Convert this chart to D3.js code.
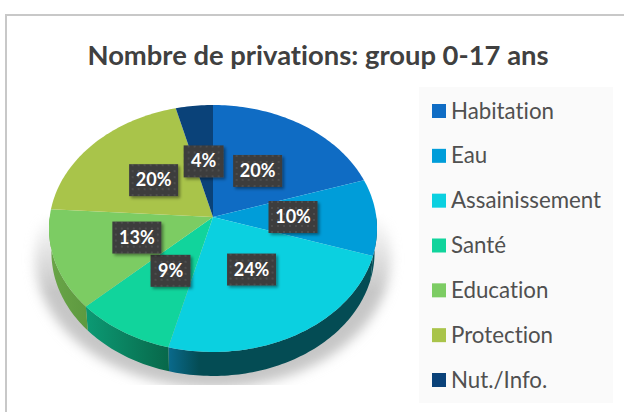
<!DOCTYPE html>
<html>
<head>
<meta charset="utf-8">
<script src="https://cdnjs.cloudflare.com/ajax/libs/d3/7.8.5/d3.min.js"></script>
<style>
html, body { margin: 0; padding: 0; background: #fff; }
svg { display: block; }
text { font-family: Lato, "Open Sans", sans-serif; font-variant-ligatures: none; }
</style>
</head>
<body>
<svg id="chart" width="624" height="412"></svg>
<script>
var categories = ["Habitation", "Eau", "Assainissement", "Santé", "Education", "Protection", "Nut./Info."];
var shares = [20, 10, 24, 9, 13, 20, 4];
var titleText = "Nombre de privations: group 0-17 ans";

var topColors = ["#0f6cc4", "#009dd9", "#0bd0e0", "#11d49c", "#7ccc63", "#a9c44a", "#0a4279"];
var wallLeft = ["#0f6cc4", "#05525c", "#0a6a8c", "#0c9a74", "#6aa548", "#a9c44a", "#0a4279"];
var wallRight = ["#0f6cc4", "#05525c", "#044c54", "#08684a", "#5e9a40", "#a9c44a", "#0a4279"];
var wallKnee = [1, 1, 0.15, 1, 1, 1, 1];
var labelPull = [0.5, 0.49, 0.45, 0.47, 0.48, 0.5, 0.5];

// pie geometry
var apex = { x: 213, y: 217 };
var radiusX = 163.3, radiusY = 122.4, tilt = -0.093, depth = 24, baseInset = 0.985;

var svg = d3.select("#chart");
var defs = svg.append("defs");

// the disc is not centred on the apex, the near side is drawn larger
function rim(a) {
    var X = Math.sin(a), Y = -Math.cos(a), w = 1 + tilt * Y;
    return [apex.x + radiusX * X / w, apex.y + radiusY * Y / w];
}
function arcPoints(a0, a1) {
    var n = Math.max(2, Math.ceil((a1 - a0) / 0.02));
    return d3.range(n + 1).map(function (i) { return rim(a0 + (a1 - a0) * i / n); });
}
var line = d3.line();

var pie = d3.pie().sort(null).value(function (d) { return d; });
var slices = pie(shares);

// frame
svg.append("rect").attr("x", 6).attr("y", 15).attr("width", 640).attr("height", 420)
    .attr("fill", "#fff").attr("stroke", "#c8c8c8").attr("stroke-width", 2);

svg.append("text").attr("x", 318).attr("y", 65).attr("text-anchor", "middle")
    .attr("font-size", 27.4).attr("font-weight", 700).attr("fill", "#404040")
    .text(titleText);

// soft shadow below the pie
var blur = defs.append("filter").attr("id", "blur").attr("x", "-20%").attr("y", "-20%").attr("width", "140%").attr("height", "140%");
blur.append("feGaussianBlur").attr("stdDeviation", 6);
var fade = defs.append("linearGradient").attr("id", "fade").attr("x1", 0).attr("y1", 0).attr("x2", 0).attr("y2", 1);
fade.append("stop").attr("offset", "0.35").attr("stop-color", "#fff").attr("stop-opacity", 0);
fade.append("stop").attr("offset", "0.65").attr("stop-color", "#fff").attr("stop-opacity", 1);
defs.append("mask").attr("id", "shadowMask").attr("maskUnits", "userSpaceOnUse")
    .attr("x", 0).attr("y", 120).attr("width", 420).attr("height", 265)
    .append("rect").attr("x", 0).attr("y", 120).attr("width", 420).attr("height", 265).attr("fill", "url(#fade)");
svg.append("g").attr("mask", "url(#shadowMask)")
    .append("ellipse").attr("cx", 213).attr("cy", 258).attr("rx", 178).attr("ry", 130)
    .attr("fill", "#c6c6c6").attr("filter", "url(#blur)");

// side wall, only the part of each slice on the near half
var halfTurn = Math.PI / 2;
var wallEnd = 3 * Math.PI / 2;
slices.forEach(function (s, i) {
    var a0 = Math.max(s.startAngle, halfTurn), a1 = Math.min(s.endAngle, wallEnd);
    if (a1 <= a0) return;
    var pts = arcPoints(a0, a1);
    var lower = pts.slice().reverse().map(function (p) {
        return [apex.x + (p[0] - apex.x) * baseInset, p[1] + depth];
    });
    var id = "wall" + i;
    var xs = d3.extent(pts, function (p) { return p[0]; });
    var g = defs.append("linearGradient").attr("id", id).attr("gradientUnits", "userSpaceOnUse")
        .attr("x1", xs[0]).attr("x2", xs[1]).attr("y1", 0).attr("y2", 0);
    g.append("stop").attr("offset", 0).attr("stop-color", wallLeft[i]);
    g.append("stop").attr("offset", wallKnee[i]).attr("stop-color", wallRight[i]);
    svg.append("path").attr("d", line(pts.concat(lower)) + "Z").attr("fill", "url(#" + id + ")");
});

// top face
svg.append("g").selectAll("path").data(slices).join("path")
    .attr("d", function (s) { return line([[apex.x, apex.y]].concat(arcPoints(s.startAngle, s.endAngle))) + "Z"; })
    .attr("fill", function (s, i) { return topColors[i]; });

// data labels
var pattern = defs.append("pattern").attr("id", "dots").attr("patternUnits", "userSpaceOnUse").attr("width", 6).attr("height", 6);
pattern.append("rect").attr("width", 6).attr("height", 6).attr("fill", "#3d3d3d");
pattern.append("circle").attr("cx", 3).attr("cy", 3).attr("r", 0.9).attr("fill", "#555");
var drop = defs.append("filter").attr("id", "drop").attr("x", "-30%").attr("y", "-30%").attr("width", "170%").attr("height", "170%");
drop.append("feDropShadow").attr("dx", 2).attr("dy", 2).attr("stdDeviation", 1.5).attr("flood-color", "#000").attr("flood-opacity", 0.4);

var labels = svg.append("g").selectAll("g").data(slices).join("g")
    .attr("transform", function (s, i) {
        var p = rim((s.startAngle + s.endAngle) / 2), k = labelPull[i];
        return "translate(" + (apex.x + (p[0] - apex.x) * k) + "," + (apex.y + (p[1] - apex.y) * k) + ")";
    });
labels.append("rect")
    .attr("x", function (s) { return s.value < 10 ? -20 : -24.5; })
    .attr("width", function (s) { return s.value < 10 ? 40 : 49; })
    .attr("y", -16).attr("height", 32)
    .attr("fill", "url(#dots)").attr("filter", "url(#drop)");
labels.append("text").attr("text-anchor", "middle").attr("y", 6)
    .attr("font-size", 18).attr("font-weight", 700).attr("fill", "#fff")
    .text(function (s) { return s.value + "%"; });

// legend
svg.append("rect").attr("x", 419).attr("y", 87).attr("width", 194).attr("height", 316).attr("fill", "#fafafa");
var legendY = d3.scalePoint().domain(categories).range([111, 380]);
var legend = svg.append("g").selectAll("g").data(categories).join("g")
    .attr("transform", function (d) { return "translate(432," + legendY(d) + ")"; });
legend.append("rect").attr("y", -7).attr("width", 14).attr("height", 14)
    .attr("fill", function (d, i) { return topColors[i]; });
legend.append("text").attr("x", 19).attr("y", 7.5).attr("font-size", 22.3).attr("fill", "#505050")
    .text(function (d) { return d; });
</script>
</body>
</html>
